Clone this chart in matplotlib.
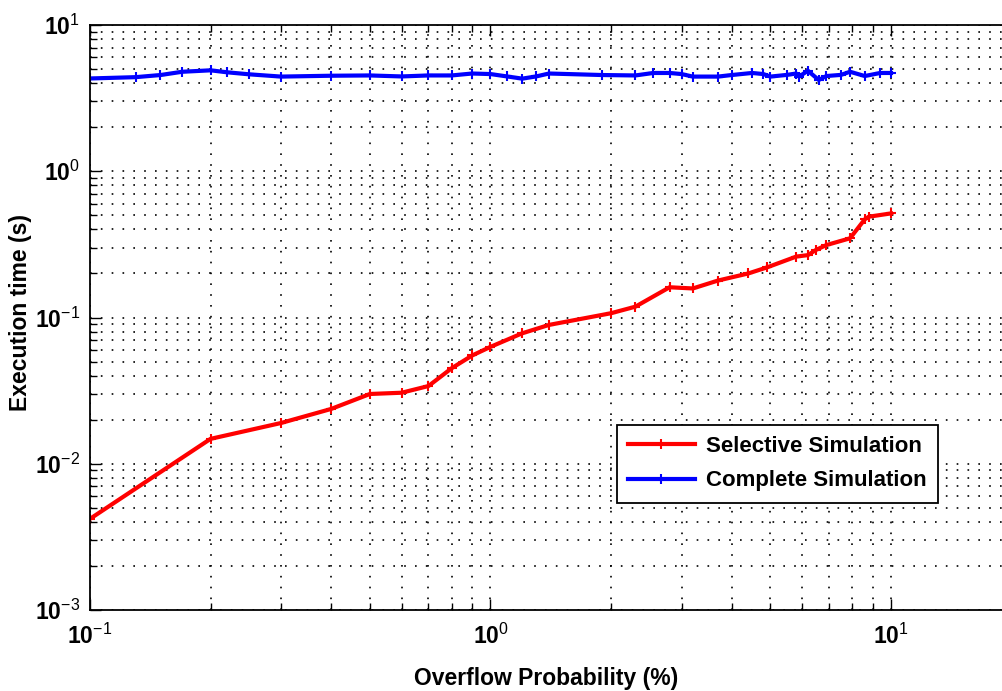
import numpy as np
import matplotlib
matplotlib.use('Agg')
import matplotlib.pyplot as plt
from matplotlib.ticker import LogLocator, FuncFormatter, NullFormatter

plt.rcParams['font.family'] = ['Liberation Sans', 'DejaVu Sans']
plt.rcParams['mathtext.fontset'] = 'custom'
plt.rcParams['mathtext.rm'] = 'Liberation Sans'
plt.rcParams['mathtext.bf'] = 'Liberation Sans:bold'

# selective simulation (red)
sel_x = [0.1, 0.2, 0.3, 0.4, 0.5, 0.6, 0.7, 0.8, 0.9, 1.0, 1.2, 1.4, 2.0, 2.3,
         2.8, 3.2, 3.7, 4.4, 4.9, 5.8, 6.2, 6.5, 6.9, 7.9, 8.6, 8.8, 10.0]
sel_y = [0.0042, 0.0148, 0.019, 0.0237, 0.030, 0.0306, 0.034, 0.045, 0.055, 0.063,
         0.078, 0.089, 0.107, 0.1186, 0.161, 0.158, 0.179, 0.200, 0.220, 0.261,
         0.267, 0.290, 0.313, 0.348, 0.469, 0.489, 0.515]

# complete simulation (blue)
comp_x = [0.1, 0.13, 0.15, 0.17, 0.2, 0.22, 0.25, 0.3, 0.4, 0.5, 0.6, 0.7, 0.8,
          0.9, 1.0, 1.1, 1.2, 1.3, 1.4, 1.9, 2.3, 2.55, 2.8, 3.0, 3.2, 3.7, 4.0,
          4.5, 4.8, 5.0, 5.5, 5.8, 5.9, 6.2, 6.6, 6.9, 7.5, 7.9, 8.6, 9.4, 10.0]
comp_y = [4.31, 4.4, 4.55, 4.79, 4.9, 4.75, 4.6, 4.44, 4.5, 4.52, 4.45, 4.52, 4.52,
          4.66, 4.62, 4.45, 4.3, 4.45, 4.66, 4.55, 4.52, 4.70, 4.70, 4.62, 4.44,
          4.44, 4.55, 4.70, 4.62, 4.44, 4.56, 4.66, 4.44, 4.87, 4.21, 4.48, 4.56,
          4.79, 4.48, 4.70, 4.70]

fig = plt.figure(figsize=(10.03, 6.91), dpi=100)
# axes runs off the right edge of the picture, like the cropped original
ax = fig.add_axes([0.0897, 0.1172, 1 - 0.0897, 0.8466])

lw = 3.0
ax.plot(sel_x, sel_y, color='red', lw=lw, marker='+', ms=7, mew=1.5,
        label='Selective Simulation')
ax.plot(comp_x, comp_y, color='blue', lw=lw, marker='+', ms=7, mew=1.5,
        label='Complete Simulation')

ax.set_xscale('log')
ax.set_yscale('log')
ax.set_xlim(0.1, 10 ** (1 + 112 / 400.5))
ax.set_ylim(1e-3, 10)

def fmt(v, pos):
    e = int(round(np.log10(v)))
    return r'$\mathbf{10}^{%d}$' % e

for axis in (ax.xaxis, ax.yaxis):
    axis.set_major_locator(LogLocator(base=10, numticks=10))
    axis.set_minor_locator(LogLocator(base=10, subs=np.arange(2, 10), numticks=20))
    axis.set_major_formatter(FuncFormatter(fmt))
    axis.set_minor_formatter(NullFormatter())

ax.spines['right'].set_visible(False)
ax.tick_params(which='both', direction='in', top=True, right=False, labelsize=16.5)
ax.tick_params(which='major', length=8, width=1)
ax.tick_params(which='minor', length=5, width=1)
ax.tick_params(axis='x', pad=10)
ax.tick_params(axis='y', pad=7)

dots = (0, (1, 5.5))
ax.grid(True, which='major', linestyle=dots, color='black', lw=1.2)
ax.grid(True, which='minor', linestyle=dots, color='black', lw=1.2)

for s in ax.spines.values():
    s.set_linewidth(1.3)

ax.set_xlabel('Overflow Probability (%)', fontsize=16.5, fontweight='bold')
ax.xaxis.set_label_coords((546 - 90) / (1003 - 90), -0.098)
fig.text(0.02, 0.548, 'Execution time (s)', rotation=90, fontsize=16.5,
         fontweight='bold', ha='center', va='center')

leg = ax.legend(loc='upper left', bbox_to_anchor=(617 / 1003, (691 - 425) / 691),
                bbox_transform=fig.transFigure, fancybox=False,
                framealpha=1, edgecolor='black', borderpad=0.5, handlelength=3.0,
                handletextpad=0.5, labelspacing=0.6, borderaxespad=0,
                prop={'weight': 'bold', 'size': 16})
leg.get_frame().set_linewidth(1.3)

fig.savefig('out.png', dpi=100)
